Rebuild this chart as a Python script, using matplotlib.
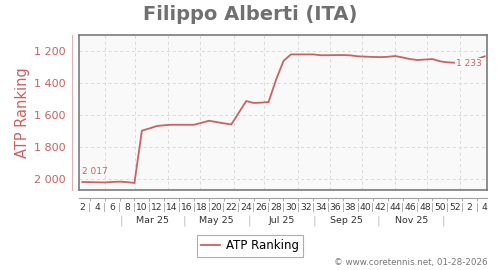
import matplotlib
matplotlib.use("Agg")
import matplotlib.pyplot as plt
from matplotlib.transforms import blended_transform_factory

# weeks: 2..52 of 2025, then 53..56 stand for weeks 1..4 of 2026
weeks = list(range(2, 57))
ranking = [2017, 2018, 2019, 2020, 2017, 2015, 2018, 2023, 1697, 1683,
           1668, 1663, 1660, 1660, 1660, 1660, 1648, 1635, 1643, 1651,
           1658, 1585, 1512, 1524, 1522, 1518, 1380, 1262, 1221, 1221,
           1221, 1221, 1226, 1226, 1225, 1225, 1227, 1233, 1235, 1237,
           1238, 1236, 1231, 1240, 1250, 1256, 1253, 1250, 1264, 1270,
           1273, 1273, 1270, 1250, 1233]

week_ticks = list(range(2, 57, 2))
week_labels = [str(w) if w <= 52 else str(w - 52) for w in week_ticks]
week_seps = list(range(3, 57, 2))

month_names = ["Mar 25", "May 25", "Jul 25", "Sep 25", "Nov 25"]
month_bounds = [7.2, 15.65, 24.4, 33.1, 41.8, 50.5]

red = "#cc6161"
grey_txt = "#333333"

fig = plt.figure(figsize=(5, 2.7), dpi=100)
ax = fig.add_axes([78.5 / 500, 1 - 189.5 / 270, 408.5 / 500, 154 / 270])
ax.set_facecolor("#f9f9f9")

ax.plot(weeks, ranking, color=red, lw=1.3, label="ATP Ranking", zorder=3)

ax.set_xlim(1.49, 56.32)
ax.set_ylim(2064, 1103)

# grid
ax.set_yticks([1200, 1400, 1600, 1800, 2000])
ax.set_yticklabels(["1 200", "1 400", "1 600", "1 800", "2 000"])
for y in [1200, 1400, 1600, 1800, 2000]:
    ax.axhline(y, color="#d8d8d8", lw=0.7, ls=(0, (3, 3)), zorder=1)
for m in [5.1, 9.07, 13.5, 17.8, 22.3, 26.4, 30.9, 35.2, 39.6, 44, 48.3, 52.7]:
    ax.axvline(m, color="#d8d8d8", lw=0.7, ls=(0, (3, 3)), zorder=1)

# box around plot area + outer axis lines
for s in ["top", "right"]:
    ax.spines[s].set_color("#7a7a7a")
    ax.spines[s].set_linewidth(1.2)
ax.plot([0, 1], [0, 0], transform=ax.transAxes, color="#7a7a7a", lw=1.2, clip_on=False)
ax.plot([0, 0], [0, 1], transform=ax.transAxes, color="#7a7a7a", lw=1.2, clip_on=False)
ax.spines["left"].set_position(("outward", 5))
ax.spines["left"].set_color("#e0b0b0")
ax.spines["bottom"].set_position(("outward", 6))
ax.spines["bottom"].set_color("#a0a0a0")

ax.tick_params(axis="y", length=0, pad=4, labelsize=8, labelcolor=red)

ax.set_xticks(week_ticks)
ax.set_xticklabels(week_labels)
ax.set_xticks(week_seps, minor=True)
ax.set_xticklabels(["|"] * len(week_seps), minor=True)
ax.tick_params(axis="x", which="major", length=0, pad=4.0, labelsize=6.6, labelcolor=grey_txt)
ax.tick_params(axis="x", which="minor", length=2.2, width=0.6, color="#a0a0a0",
               pad=1.8, labelsize=6.6, labelcolor="#999999")

# month row
tr = blended_transform_factory(ax.transData, ax.transAxes)
for b in month_bounds:
    ax.text(b, -0.2, "|", transform=tr, ha="center", va="center",
            fontsize=7.5, color="#bbbbbb", clip_on=False)
for i, name in enumerate(month_names):
    ax.text((month_bounds[i] + month_bounds[i + 1]) / 2, -0.2, name, transform=tr,
            ha="center", va="center", fontsize=6.8, color=grey_txt, clip_on=False)

ax.set_ylabel("ATP Ranking", color=red, fontsize=10.5, labelpad=3)

# data labels at both ends
ax.annotate("2 017", (weeks[0], ranking[0]), xytext=(0, 4), textcoords="offset points",
            ha="left", va="bottom", fontsize=6.5, color=red)
ax.annotate("1 233", (weeks[-1], ranking[-1]), xytext=(-2, -2), textcoords="offset points",
            ha="right", va="top", fontsize=6.5, color=red, zorder=4,
            bbox=dict(boxstyle="square,pad=0.1", fc="#f9f9f9", ec="none"))

fig.text(0.5, 1 - 14 / 270, "Filippo Alberti (ITA)", ha="center", va="center",
         fontsize=14, fontweight="bold", color="#707070")

leg = fig.legend(loc="center", bbox_to_anchor=(0.5, 1 - 246 / 270), fontsize=8.5,
                 frameon=True, fancybox=False, handlelength=1.6, handletextpad=0.5,
                 borderpad=0.35, edgecolor="#999999")
leg.get_frame().set_linewidth(0.8)

fig.text(488 / 500, 1 - 262 / 270, "\u00a9 www.coretennis.net, 01-28-2026",
         ha="right", va="center", fontsize=6.3, color="#777777")

fig.savefig("out.png", dpi=100)
